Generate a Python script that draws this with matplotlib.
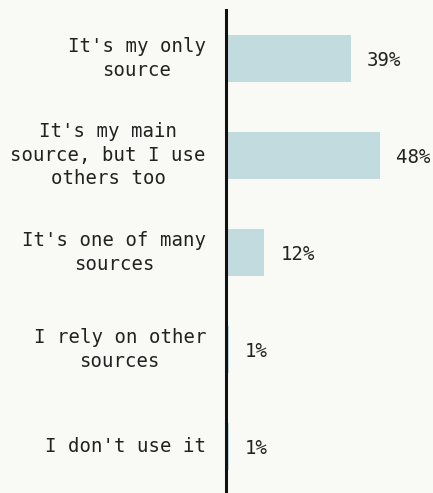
import matplotlib
matplotlib.use("Agg")
import matplotlib.pyplot as plt
from matplotlib.transforms import offset_copy

categories = ["It's my only\nsource",
              "It's my main\nsource, but I use\nothers too",
              "It's one of many\nsources",
              "I rely on other\nsources",
              "I don't use it"]
values = [39, 48, 12, 1, 1]
value_labels = ["39%", "48%", "12%", "1%", "1%"]

W, H, DPI = 433, 493, 100
bg = "#f9f9f5"
bar_color = "#c1dbde"
text_color = "#222222"

plt.rcParams['font.family'] = ['DejaVu Sans Mono']

fig = plt.figure(figsize=(W / DPI, H / DPI), dpi=DPI, facecolor=bg)
ax = fig.add_axes([226 / W, 0, 1 - 226 / W, (493 - 10) / H])
ax.set_facecolor(bg)

pos = list(range(len(categories)))
ax.barh(pos, values, height=0.485, color=bar_color, edgecolor="none", zorder=1)
ax.set_xlim(0, (W - 226) / 3.2)
ax.set_ylim(4.48, -0.5)

for s in ["top", "right", "bottom"]:
    ax.spines[s].set_visible(False)
ax.spines["left"].set_linewidth(2.2)
ax.spines["left"].set_color("#111111")
ax.set_xticks([])
ax.set_yticks([])

lab_tr = offset_copy(ax.transData, fig=fig, x=-20, y=0, units="dots")
for p, c in zip(pos, categories):
    ax.text(0, p, c, transform=lab_tr, ha="right", va="center",
            multialignment="center", fontsize=13.7, color=text_color,
            linespacing=1.3)

for p, v, l in zip(pos, values, value_labels):
    ax.annotate(l, (v, p), xytext=(11.5, -1.5), textcoords="offset points",
                ha="left", va="center", fontsize=13.7, color=text_color)

fig.savefig("out.png", dpi=DPI, facecolor=bg)
